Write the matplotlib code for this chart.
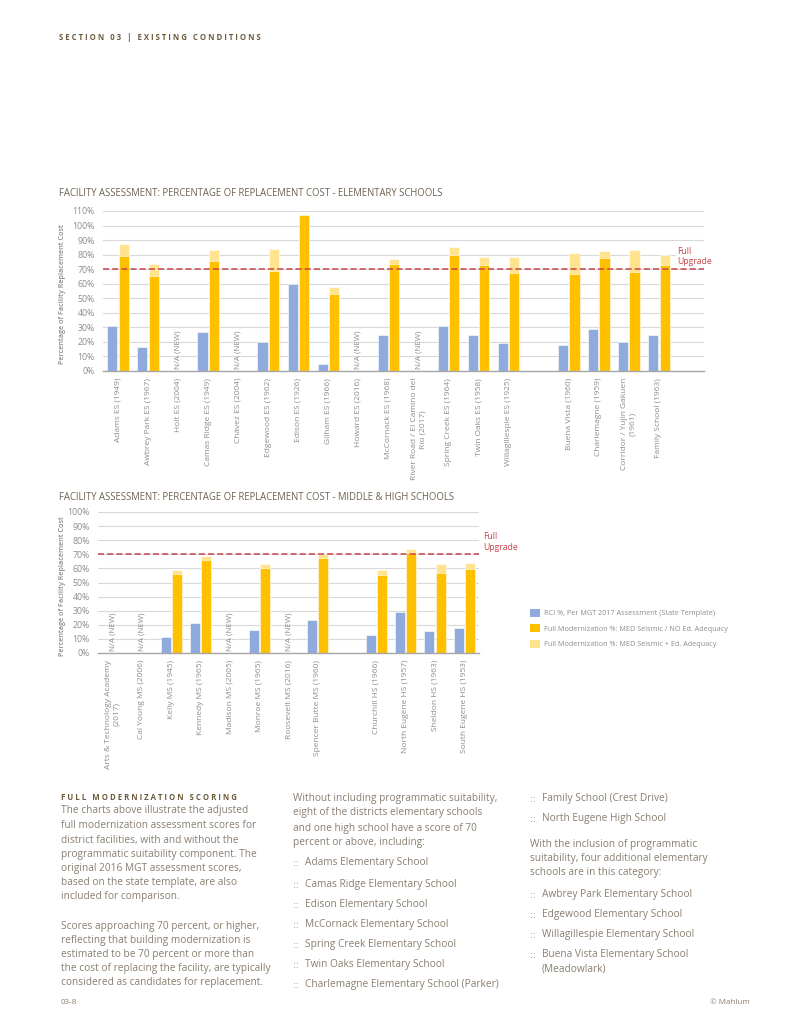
import numpy as np
import matplotlib
matplotlib.use("Agg")
import matplotlib.pyplot as plt
from matplotlib.patches import Patch

nan = np.nan

# --- data -------------------------------------------------------------
elem_names = [
    "Adams ES (1949)", "Awbrey Park ES (1967)", "Holt ES (2004)",
    "Camas Ridge ES (1949)", "Chávez ES (2004)", "Edgewood ES (1962)",
    "Edison ES (1926)", "Gilham ES (1966)", "Howard ES (2016)",
    "McCornack ES (1968)", "River Road / El Camino del\nRío (2017)",
    "Spring Creek ES (1964)", "Twin Oaks ES (1958)", "Willagillespie ES (1925)",
    "Buena Vista (1960)", "Charlemagne (1959)",
    "Corridor / Yujin Gakuen\n(1961)", "Family School (1963)",
]
elem_rci = [31, 16.5, nan, 27, nan, 20, 59.5, 4.5, nan, 25, nan,
            31, 24.5, 19, 18, 29, 20, 24.5]
elem_full = [79, 65, nan, 75.5, nan, 68.5, 107.5, 53, nan, 73.5, nan,
             79.5, 73, 67.5, 66.5, 77.5, 68, 73]
elem_full_ed = [87.5, 73.5, nan, 83, nan, 84, 107.5, 57.5, nan, 77, nan,
                85, 78.5, 78.5, 81, 82.5, 83, 80]
elem_gap_after = 13

mh_names = [
    "Arts & Technology Academy\n(2017)", "Cal Young MS (2006)", "Kelly MS (1945)",
    "Kennedy MS (1965)", "Madison MS (2005)", "Monroe MS (1965)",
    "Roosevelt MS (2016)", "Spencer Butte MS (1960)",
    "Churchill HS (1966)", "North Eugene HS (1957)", "Sheldon HS (1963)",
    "South Eugene HS (1953)",
]
mh_rci = [nan, nan, 11.5, 21.5, nan, 16, nan, 23.5, 12.5, 29, 15.5, 18]
mh_full = [nan, nan, 56, 66, nan, 60, nan, 67.5, 55, 71, 57, 59.5]
mh_full_ed = [nan, nan, 59, 69, nan, 63, nan, 70.5, 59, 74, 63, 63.5]
mh_gap_after = 7

threshold = 70
series_labels = [
    "RCI %, Per MGT 2017 Assessment (State Template)",
    "Full Modernization %: MED Seismic / NO Ed. Adequacy",
    "Full Modernization %: MED Seismic + Ed. Adequacy",
]

# --- style -------------------------------------------------------------
plt.rcParams["font.family"] = ["Open Sans", "DejaVu Sans"]
C_BLUE = "#8faadc"
C_ORANGE = "#ffc000"
C_LIGHT = "#ffe38f"
C_RED = "#c9444e"
C_TICK = "#8c8c8c"
C_BROWN = "#6b5a3c"
C_BODY = "#8a7e70"

W, H = 800, 1035
fig = plt.figure(figsize=(8, 10.35), dpi=100)


def fx(px):
    return px / W


def fy(py):
    return 1 - py / H


def bar_chart(ax, names, rci, full, full_ed, gap_after, n_slots, ymax):
    pos = np.array([i if i <= gap_after else i + 1 for i in range(len(names))])
    bw = 0.34
    off = 0.19
    ax.bar(pos - off, rci, bw, color=C_BLUE, edgecolor="white", linewidth=0.4, zorder=3)
    ax.bar(pos + off, full_ed, bw, color=C_LIGHT, edgecolor="white", linewidth=0.4, zorder=3)
    ax.bar(pos + off, full, bw, color=C_ORANGE, edgecolor="white", linewidth=0.4, zorder=3)
    for p, v in zip(pos, rci):
        if np.isnan(v):
            ax.text(p, 1.5, "N/A (NEW)", rotation=90, ha="center", va="bottom",
                    fontsize=5.8, color=C_TICK, zorder=4)
    ax.axhline(threshold, color=C_RED, linestyle=(0, (4, 2)), linewidth=1.1, zorder=5)
    ax.set_xlim(-0.5, n_slots - 0.5)
    ax.set_ylim(0, ymax)
    ax.set_yticks(np.arange(0, ymax + 1, 10))
    ax.set_yticklabels([f"{v}%" for v in range(0, ymax + 1, 10)])
    ax.set_xticks(pos)
    ax.set_xticklabels(names, rotation=90, fontsize=6, color=C_TICK,
                       multialignment="center")
    ax.tick_params(axis="y", length=0, labelsize=6.3, labelcolor=C_TICK, pad=6)
    ax.tick_params(axis="x", length=0, pad=5)
    ax.grid(axis="y", color="#d9d9d9", linewidth=0.8, zorder=0)
    for s in ("top", "right", "left"):
        ax.spines[s].set_visible(False)
    ax.spines["bottom"].set_color("#a6a6a6")
    ax.spines["bottom"].set_linewidth(1.0)
    ax.spines["bottom"].set_zorder(6)
    return pos


# --- header ------------------------------------------------------------
fig.text(fx(59), fy(38), "S E C T I O N   0 3   |   E X I S T I N G   C O N D I T I O N S",
         fontsize=5.6, fontweight="bold", color=C_BROWN, va="center")

# --- elementary chart ----------------------------------------------------
ax1 = fig.add_axes([fx(103), fy(371), fx(704) - fx(103), fy(211) - fy(371)])
bar_chart(ax1, elem_names, elem_rci, elem_full, elem_full_ed, elem_gap_after, 20, 110)
ax1.text(18.6, 78.5, "Full\nUpgrade", fontsize=6.2, color=C_RED,
         ha="left", va="center", linespacing=1.15, zorder=6,
         bbox=dict(facecolor="white", edgecolor="none", pad=0.5))
fig.text(fx(59), fy(193),
         "FACILITY ASSESSMENT: PERCENTAGE OF REPLACEMENT COST - ELEMENTARY SCHOOLS",
         fontsize=6.85, color="#6e6150", va="center")
fig.text(fx(63), fy(294), "Percentage of Facility Replacement Cost", rotation=90,
         fontsize=5.2, fontweight="semibold", color=C_TICK, ha="center", va="center")

# --- middle & high chart ---------------------------------------------------
ax2 = fig.add_axes([fx(98), fy(653), fx(479) - fx(98), fy(512) - fy(653)])
bar_chart(ax2, mh_names, mh_rci, mh_full, mh_full_ed, mh_gap_after, 13, 100)
fig.text(fx(483), fy(542), "Full\nUpgrade", fontsize=6.2, color=C_RED,
         ha="left", va="center", linespacing=1.15)
fig.text(fx(59), fy(497),
         "FACILITY ASSESSMENT: PERCENTAGE OF REPLACEMENT COST - MIDDLE & HIGH SCHOOLS",
         fontsize=6.85, color="#6e6150", va="center")
fig.text(fx(63), fy(586), "Percentage of Facility Replacement Cost", rotation=90,
         fontsize=5.2, fontweight="semibold", color=C_TICK, ha="center", va="center")

handles = [Patch(facecolor=c, edgecolor="none") for c in (C_BLUE, C_ORANGE, C_LIGHT)]
fig.legend(handles, series_labels, loc="upper left",
           bbox_to_anchor=(fx(527), fy(606)), frameon=False, fontsize=5.2,
           labelcolor=C_TICK, handlelength=1.35, handleheight=1.35,
           handletextpad=0.6, labelspacing=0.95, borderaxespad=0)

# --- body text -------------------------------------------------------------
BODY = 7.3


def line(x, y, s, **kw):
    kw.setdefault("fontsize", BODY)
    kw.setdefault("color", C_BODY)
    kw.setdefault("va", "center")
    fig.text(fx(x), fy(y), s, ha=kw.pop("ha", "left"), **kw)


def bullet(x, y, s):
    # two-dot bullet drawn on the text baseline
    line(x, y + 3.5, "::", fontsize=6.5, va="baseline", family="DejaVu Sans")
    line(x + 12, y, s)


line(61, 797, "F U L L   M O D E R N I Z A T I O N   S C O R I N G",
     fontsize=5.6, fontweight="bold", color=C_BROWN)
col1 = [
    (811, "The charts above illustrate the adjusted"),
    (825, "full modernization assessment scores for"),
    (840, "district facilities, with and without the"),
    (854, "programmatic suitability component. The"),
    (868, "original 2016 MGT assessment scores,"),
    (883, "based on the state template, are also"),
    (897, "included for comparison."),
    (926, "Scores approaching 70 percent, or higher,"),
    (940, "reflecting that building modernization is"),
    (954, "estimated to be 70 percent or more than"),
    (969, "the cost of replacing the facility, are typically"),
    (983, "considered as candidates for replacement."),
]
for y, s in col1:
    line(61, y, s)
line(61, 1003, "03-8", fontsize=5.8)

col2 = [
    (799, "Without including programmatic suitability,"),
    (813, "eight of the districts elementary schools"),
    (828, "and one high school have a score of 70"),
    (842, "percent or above, including:"),
]
for y, s in col2:
    line(293, y, s)
col2_bullets = [
    (863, "Adams Elementary School"),
    (884, "Camas Ridge Elementary School"),
    (904, "Edison Elementary School"),
    (924, "McCornack Elementary School"),
    (944, "Spring Creek Elementary School"),
    (965, "Twin Oaks Elementary School"),
    (985, "Charlemagne Elementary School (Parker)"),
]
for y, s in col2_bullets:
    bullet(293, y, s)

bullet(530, 799, "Family School (Crest Drive)")
bullet(530, 819, "North Eugene High School")
for y, s in [(845, "With the inclusion of programmatic"),
             (859, "suitability, four additional elementary"),
             (873, "schools are in this category:")]:
    line(530, y, s)
for y, s in [(894, "Awbrey Park Elementary School"),
             (914, "Edgewood Elementary School"),
             (935, "Willagillespie Elementary School"),
             (955, "Buena Vista Elementary School")]:
    bullet(530, y, s)
line(542, 969, "(Meadowlark)")
line(750, 1003, "© Mahlum", fontsize=5.8, ha="right")

fig.savefig("out.png", dpi=100)
